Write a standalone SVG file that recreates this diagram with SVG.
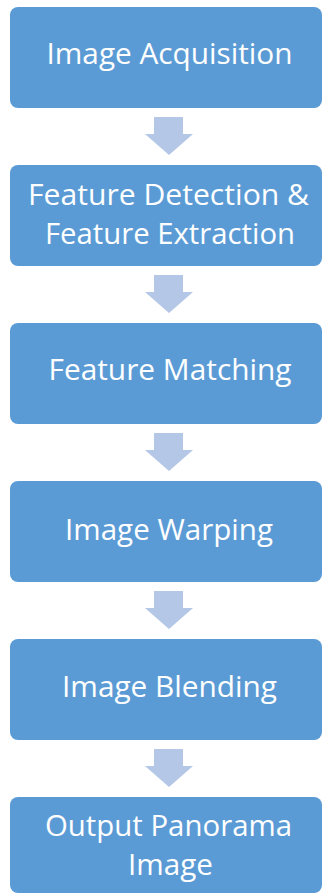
<svg xmlns="http://www.w3.org/2000/svg" width="322" height="894" viewBox="0 0 322 894">
<style>
.box{fill:#5B9BD5;}
.lbl{fill:#FFFFFF;font-family:"Open Sans","Liberation Sans",sans-serif;font-size:29px;text-anchor:middle;}
.arr{fill:#B4C7E7;}
</style>
<defs>
<path id="ar" class="arr" d="M154,0 H183 V17 H193 L169,38 L145,17 H154 Z"/>
</defs>
<rect width="322" height="894" fill="#FFFFFF"/>
<g id="connectors">
<use href="#ar" y="117"/>
<use href="#ar" y="275"/>
<use href="#ar" y="433"/>
<use href="#ar" y="591"/>
<use href="#ar" y="749"/>
</g>
<g id="n1"><rect class="box" x="10" y="7" width="312" height="101" rx="8"/><text class="lbl" x="169.5" y="64" textLength="246" lengthAdjust="spacingAndGlyphs">Image Acquisition</text></g>
<g id="n2"><rect class="box" x="10" y="165" width="312" height="101" rx="8"/><text class="lbl" x="168.5" y="205" textLength="281" lengthAdjust="spacingAndGlyphs">Feature Detection &amp;</text><text class="lbl" x="170" y="244" textLength="250" lengthAdjust="spacingAndGlyphs">Feature Extraction</text></g>
<g id="n3"><rect class="box" x="10" y="323" width="312" height="101" rx="8"/><text class="lbl" x="170" y="380" textLength="243" lengthAdjust="spacingAndGlyphs">Feature Matching</text></g>
<g id="n4"><rect class="box" x="10" y="481" width="312" height="101" rx="8"/><text class="lbl" x="169" y="540" textLength="208" lengthAdjust="spacingAndGlyphs">Image Warping</text></g>
<g id="n5"><rect class="box" x="10" y="639" width="312" height="101" rx="8"/><text class="lbl" x="169.5" y="697" textLength="215" lengthAdjust="spacingAndGlyphs">Image Blending</text></g>
<g id="n6"><rect class="box" x="10" y="797" width="312" height="96" rx="8"/><text class="lbl" x="168.5" y="836" textLength="247" lengthAdjust="spacingAndGlyphs">Output Panorama</text><text class="lbl" x="170.5" y="875" textLength="85" lengthAdjust="spacingAndGlyphs">Image</text></g>
</svg>
